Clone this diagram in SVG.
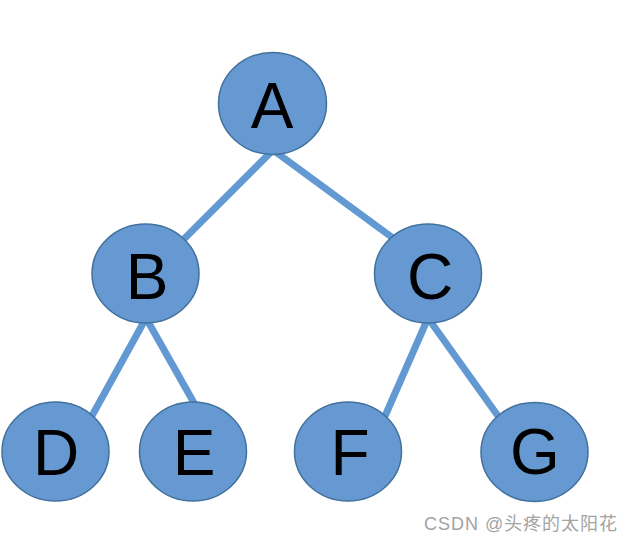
<svg xmlns="http://www.w3.org/2000/svg" width="631" height="544" viewBox="0 0 631 544">
<style>
.edge{stroke:#6399d3;stroke-width:7;fill:none}
.node ellipse{fill:#6698d2;stroke:#41719c;stroke-width:1.5}
.node text{font-family:"Liberation Sans",Arial,sans-serif;font-size:64px;fill:#000;text-anchor:middle}
.wm{font-family:"Liberation Sans","Noto Sans CJK SC",sans-serif;font-size:18px;fill:#a3a3a3}
</style>
<rect width="631" height="544" fill="#fff"/>
<g id="edges">
<line class="edge" x1="273" y1="150" x2="168" y2="255"/>
<line class="edge" x1="273" y1="150" x2="412" y2="252"/>
<line class="edge" x1="146" y1="318" x2="88" y2="423"/>
<line class="edge" x1="146" y1="318" x2="198" y2="410"/>
<line class="edge" x1="428" y1="318" x2="382" y2="423"/>
<line class="edge" x1="428" y1="318" x2="503" y2="423"/>
</g>
<g id="A" class="node"><ellipse cx="272.5" cy="103.5" rx="54" ry="51"/><text x="272" y="128">A</text></g>
<g id="B" class="node"><ellipse cx="145.5" cy="273.5" rx="53.5" ry="49.5"/><text x="147" y="299">B</text></g>
<g id="C" class="node"><ellipse cx="428" cy="273.5" rx="53.5" ry="49.5"/><text x="430" y="299">C</text></g>
<g id="D" class="node"><ellipse cx="55.5" cy="451.5" rx="53.5" ry="49.5"/><text x="56" y="475">D</text></g>
<g id="E" class="node"><ellipse cx="193" cy="451.5" rx="53.5" ry="49.5"/><text x="194" y="475">E</text></g>
<g id="F" class="node"><ellipse cx="348" cy="451.5" rx="53.5" ry="49.5"/><text x="350" y="475">F</text></g>
<g id="G" class="node"><ellipse cx="534.5" cy="452" rx="53.5" ry="49.5"/><text x="535" y="474">G</text></g>
<text class="wm" x="424" y="530" textLength="193">CSDN @头疼的太阳花</text>
</svg>
